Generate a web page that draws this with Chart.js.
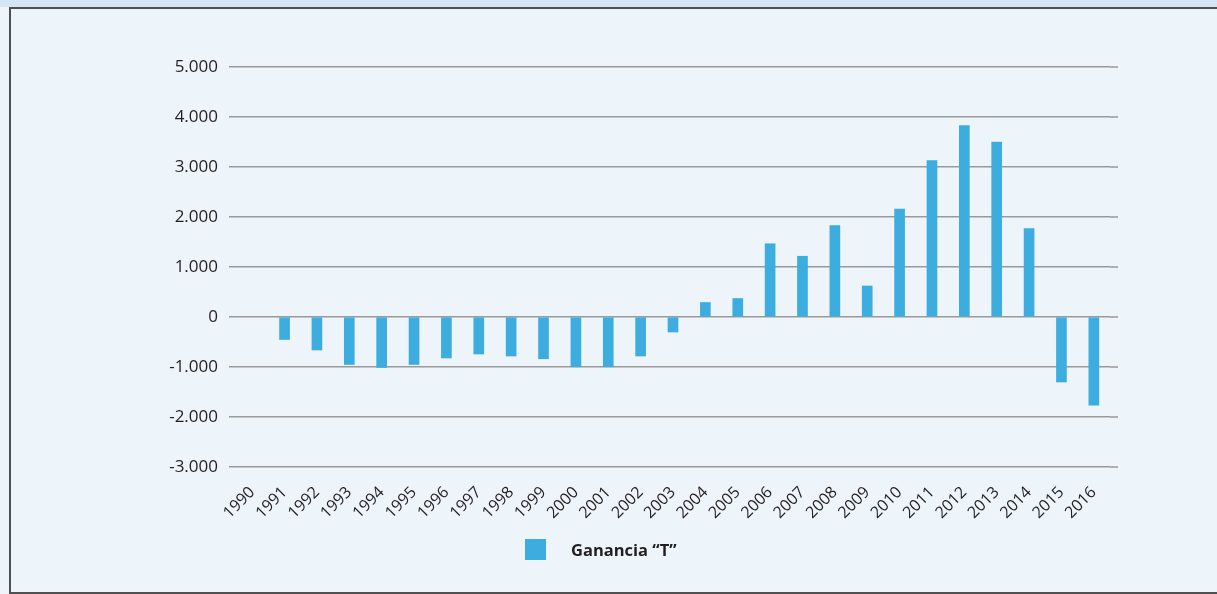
<!DOCTYPE html>
<html lang="es">
<head>
<meta charset="utf-8">
<script src="https://cdn.jsdelivr.net/npm/chart.js@4.4.1/dist/chart.umd.min.js"></script>
<style>
  html, body {
    margin: 0;
    padding: 0;
    width: 1217px;
    height: 594px;
    overflow: hidden;
    background: #edf4fa;
    font-family: "Open Sans", sans-serif;
  }
  .top-strip {
    position: absolute;
    left: 0;
    top: 0;
    width: 1217px;
    height: 7px;
    background: #d4e6f5;
  }
  .frame {
    position: absolute;
    left: 9px;
    top: 7px;
    width: 1220px;
    height: 583px;
    border-left: 2px solid #505052;
    border-top: 2px solid #505052;
    border-bottom: 2px solid #505052;
    background: #edf4fa;
  }
  .chart-wrap {
    position: absolute;
    left: 0;
    top: 0;
    width: 1217px;
    height: 594px;
  }
  .legend {
    position: absolute;
    left: 525px;
    top: 539px;
    height: 21px;
    display: flex;
    align-items: center;
  }
  .legend-box {
    width: 21px;
    height: 21px;
    background: #3dade0;
    margin-right: 25px;
  }
  .legend-text {
    font-weight: bold;
    font-size: 16.5px;
    color: #231f20;
  }
</style>
</head>
<body>
<div class="top-strip"></div>
<div class="frame"></div>
<div class="chart-wrap"><canvas id="gananciaChart" width="1217" height="594"></canvas></div>
<div class="legend">
  <div class="legend-box"></div>
  <span class="legend-text">Ganancia “T”</span>
</div>

<script>
const years = [
  "1990", "1991", "1992", "1993", "1994", "1995", "1996", "1997", "1998",
  "1999", "2000", "2001", "2002", "2003", "2004", "2005", "2006", "2007",
  "2008", "2009", "2010", "2011", "2012", "2013", "2014", "2015", "2016",
];

const ganancia = [
  null, -450, -660, -950, -1010, -950, -820, -740, -780,
  -835, -995, -995, -780, -300, 290, 370, 1465, 1215,
  1830, 620, 2160, 3130, 3830, 3500, 1770, -1300, -1765,
];

const yMin = -3000;
const yMax = 5000;
const yStep = 1000;

const textColor = "#231f20";
const barColor = "#3dade0";
const gridColor = "#9a9a9a";

function formatMiles(v) {
  const sign = v < 0 ? "-" : "";
  const s = String(Math.abs(v));
  return sign + s.replace(/\B(?=(\d{3})+(?!\d))/g, ".");
}

// the grid in the original runs a little past the last bar
const gridTail = {
  id: "gridTail",
  beforeDatasetsDraw(chart) {
    const { ctx, chartArea, scales } = chart;
    const y = scales.y;
    ctx.save();
    ctx.strokeStyle = gridColor;
    ctx.lineWidth = 1.5;
    y.ticks.forEach((t) => {
      const py = y.getPixelForValue(t.value);
      ctx.beginPath();
      ctx.moveTo(chartArea.right, py);
      ctx.lineTo(chartArea.right + 8, py);
      ctx.stroke();
    });
    ctx.restore();
  },
};

const ctx = document.getElementById("gananciaChart");

new Chart(ctx, {
  type: "bar",
  data: {
    labels: years,
    datasets: [
      {
        label: "Ganancia “T”",
        data: ganancia,
        backgroundColor: barColor,
        borderWidth: 0,
        barThickness: 10,
      },
    ],
  },
  options: {
    responsive: false,
    animation: false,
    layout: {
      padding: { top: 67, right: 107, left: 0, bottom: 0 },
    },
    plugins: {
      legend: { display: false },
      tooltip: { enabled: false },
    },
    scales: {
      x: {
        grid: { display: false, drawTicks: false },
        border: { display: false },
        ticks: {
          color: textColor,
          font: { family: "'Open Sans', sans-serif", size: 16 },
          minRotation: 45,
          maxRotation: 45,
          padding: 16,
          autoSkip: false,
        },
        afterFit: (scale) => {
          scale.height = 127;
        },
      },
      y: {
        min: yMin,
        max: yMax,
        border: { display: false },
        grid: {
          color: gridColor,
          lineWidth: 1.5,
          drawTicks: true,
          tickLength: 7,
        },
        ticks: {
          stepSize: yStep,
          color: textColor,
          padding: 11,
          font: { family: "'Open Sans', sans-serif", size: 17 },
          callback: (v) => formatMiles(v),
        },
        afterFit: (scale) => {
          scale.width = 236;
        },
      },
    },
  },
  plugins: [gridTail],
});
</script>
</body>
</html>
